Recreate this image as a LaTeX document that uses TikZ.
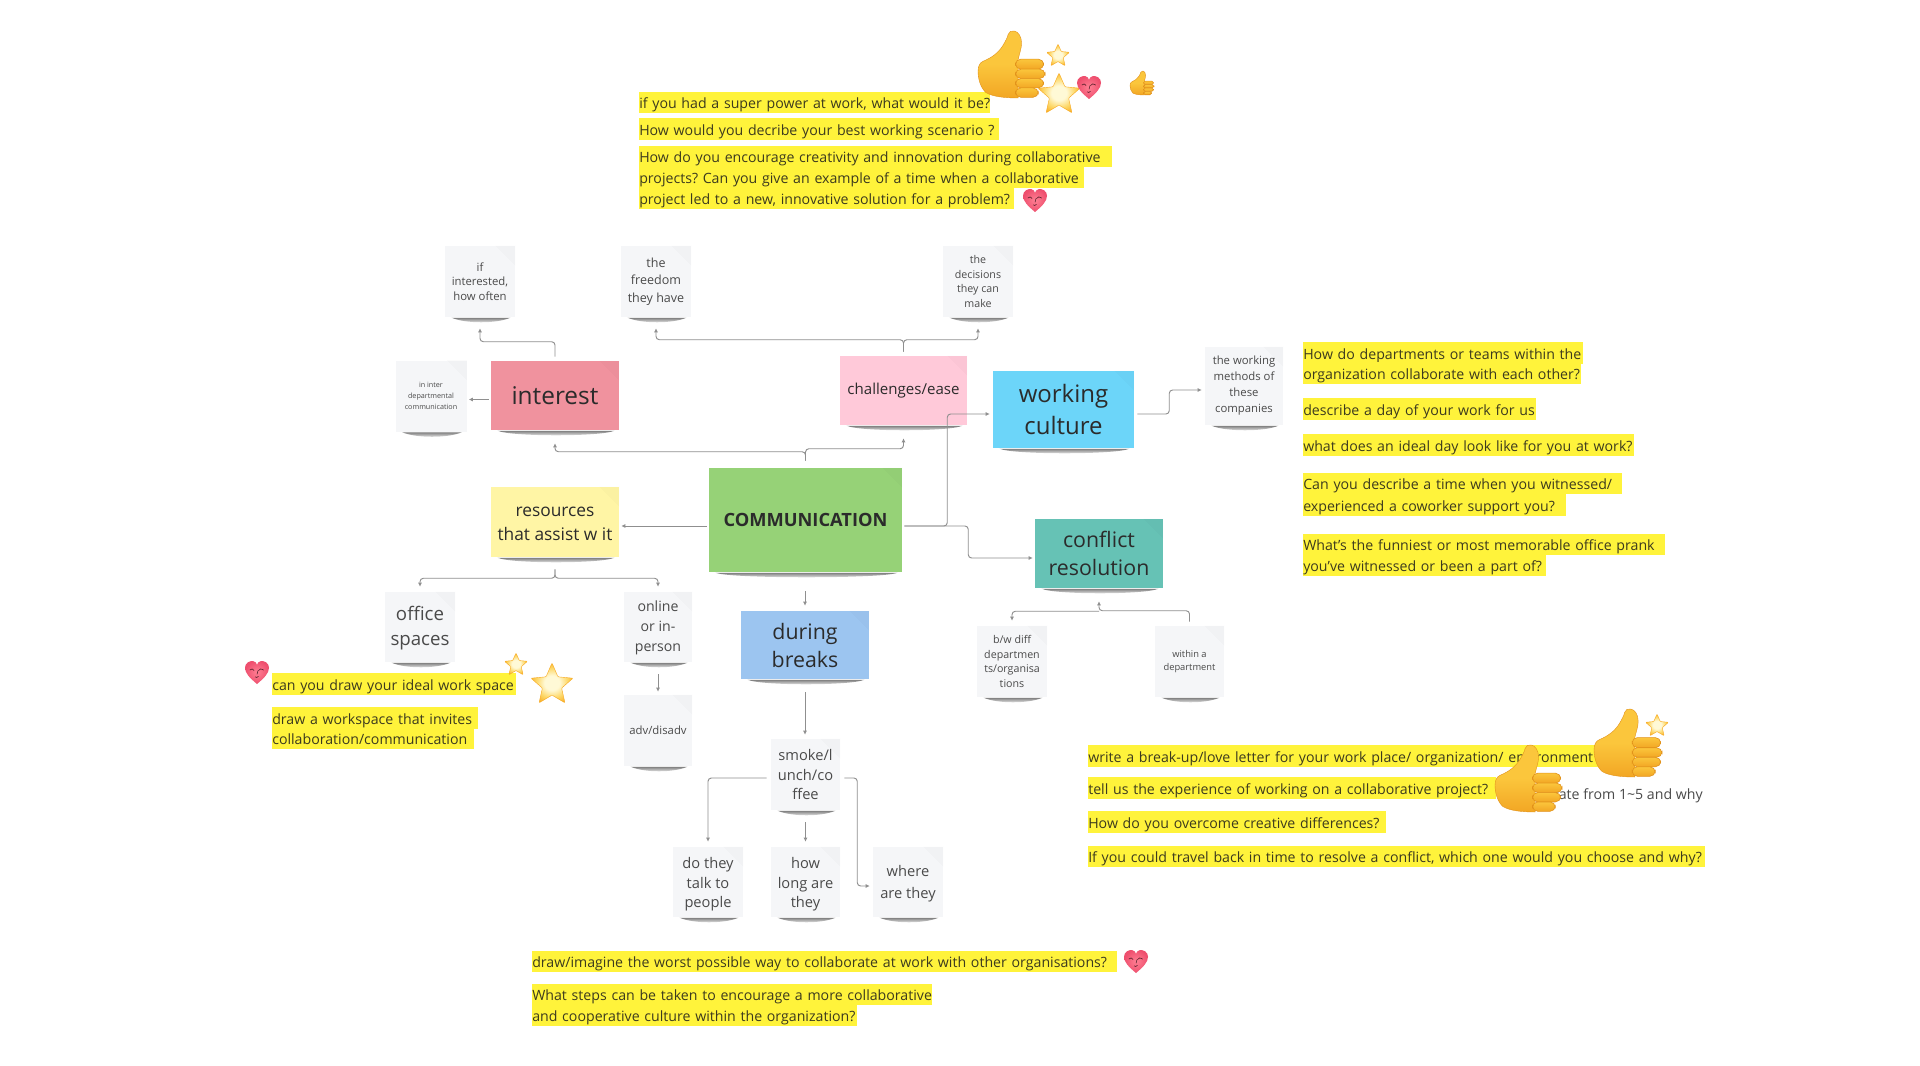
\documentclass[tikz,border=0pt]{standalone}
\usepackage{fontspec}
\setmainfont{Open Sans}
\usetikzlibrary{arrows.meta,calc}
\definecolor{cinterest}{HTML}{F0929E}
\definecolor{cchal}{HTML}{FFC9D9}
\definecolor{cwork}{HTML}{6CD5F9}
\definecolor{ccomm}{HTML}{96D277}
\definecolor{cres}{HTML}{FFF5A5}
\definecolor{cconf}{HTML}{66C2B5}
\definecolor{cbreak}{HTML}{9CC5F0}
\definecolor{cnote}{HTML}{F5F6F8}
\definecolor{hly}{HTML}{FFF33B}
\definecolor{ink}{HTML}{2B2B2B}
\definecolor{inksoft}{HTML}{4A4A4A}
\definecolor{inkhl}{HTML}{3C3A1E}
\definecolor{cline}{HTML}{8F8F8F}
\definecolor{tbody}{HTML}{FBC63C}
\definecolor{tdark}{HTML}{F2A624}
\definecolor{tedge}{HTML}{E2921A}
\definecolor{hin}{HTML}{FF7F93}
\definecolor{hout}{HTML}{EE4F6E}
\definecolor{sin}{HTML}{FFF9D6}
\definecolor{smid}{HTML}{FDD766}
\definecolor{sout}{HTML}{F8A81E}
\pgfdeclareradialshading{starshade}{\pgfpointorigin}{color(0bp)=(sin);color(9bp)=(sin);color(19bp)=(smid);color(29bp)=(sout);color(100bp)=(sout)}
\tikzset{
  sticky/.style 2 args={inner sep=0pt,align=center,minimum width=#1*.75pt,minimum height=#2*.75pt,text=ink},
  note/.style 2 args={sticky={#1}{#2},fill=cnote,text=inksoft},
  fs/.style 2 args={font=\fontsize{#1}{#2}\selectfont},
  conn/.style={draw=cline,line width=.7pt,rounded corners=2.5pt,-{Latex[length=3pt,width=3pt]}},
  hl/.style={fill=hly,anchor=west,inner xsep=0pt,inner ysep=2.4pt,text height=10.2pt,text depth=.8pt,align=left,text=inkhl,font=\fontsize{10.62}{13}\selectfont\frenchspacing},
  thumb/.pic={
    \path[draw=tedge,line width=.3pt,top color=tbody,bottom color=tdark,middle color=tbody]
      (12,92) .. controls (4,85) and (0,72) .. (0,60) .. controls (0,52) and (3,47) .. (8,45)
      .. controls (20,40) and (30,33) .. (37,22) .. controls (41,15) and (44,10) .. (45,5)
      .. controls (46,1) and (50,-1) .. (54,0) .. controls (60,1) and (65,8) .. (65,18)
      .. controls (65,26) and (62,33) .. (60,42) -- (60,100)
      .. controls (40,100) and (22,98) .. (12,92) -- cycle;
    \foreach \ya/\yb/\xe in {42/57/98,57/71/100,71/85/98,85/99/90}{
      \path[draw=tedge,line width=.45pt,top color=tbody,bottom color=tdark,rounded corners=#1]
        (56,\ya) rectangle (\xe,\yb);}
  },
  heart/.pic={
    \path[inner color=hin,outer color=hout]
      (0,50) .. controls (-30,25) and (-50,5) .. (-50,-18) .. controls (-50,-38) and (-30,-48) .. (-15,-45)
      .. controls (-7,-43) and (-2,-38) .. (0,-30) .. controls (2,-38) and (7,-43) .. (15,-45)
      .. controls (30,-48) and (50,-38) .. (50,-18) .. controls (50,5) and (30,25) .. (0,50) -- cycle;
    \draw[line width=.4pt,draw=black!70!hout] (-30,-8) .. controls (-24,-16) and (-16,-14) .. (-12,-6)
      (6,-6) .. controls (10,-14) and (20,-16) .. (28,-8)
      (4,-6) .. controls (6,2) and (-2,4) .. (0,10)
      (-8,20) .. controls (-4,24) and (2,24) .. (6,18);
  },
  star/.pic={
    \path[draw=sout,line width=.3pt,shading=starshade,rounded corners=.6pt]
      (-90:100) -- (-54:46) -- (-18:100) -- (18:46) -- (54:100) -- (90:46) -- (126:100) -- (162:46) -- (198:100) -- (234:46) -- cycle;
  },
}
\newcommand\undershade[1]{%
  \shade[top color=black!50,bottom color=white]
    ($(#1.south west)+(7,0.5)$) .. controls +(14,6) and +(-14,6) .. ($(#1.south east)+(-5,0.5)$) -- cycle;
  \fill[black,opacity=.016] ($(#1.north east)+(-20,0)$) -- (#1.north east) -- ($(#1.north east)+(0,20)$) -- cycle;}
\newcommand\hlline[5]{\node[hl,text width=#4*.75pt] (#1) at (#2,#3) {\mbox{#5}};}
\newcommand\lead[1]{\rule{0pt}{#1}}
\begin{document}
\begin{tikzpicture}[x=.75pt,y=-.75pt]
\useasboundingbox (0,0) rectangle (1920,1066);
\fill[white] (0,0) rectangle (1920,1066);

% coloured notes
\node[sticky={128}{69},fill=cinterest,fs={18.3}{23}] (interest) at (555,395.5) {interest};
\node[sticky={127}{69},fill=cchal,fs={11.3}{15}] (chal) at (903.5,390.5) {challenges/ease};
\node[sticky={141}{77},fill=cwork,fs={18}{23.5}] (work) at (1063.5,409.5) {working\\culture};
\node[sticky={193}{104},fill=ccomm,font=\fontsize{13.7}{17}\selectfont\bfseries] (comm) at (805.5,520) {COMMUNICATION};
\node[sticky={128}{70},fill=cres,fs={13}{18}] (res) at (555,522) {\lead{10.6pt}resources\\that assist w it};
\node[sticky={128}{69},fill=cconf,fs={16}{21}] (conf) at (1099,553.5) {conflict\\resolution};
\node[sticky={128}{68},fill=cbreak,fs={16}{21}] (breaks) at (805,645) {during\\breaks};

% grey notes
\node[note={71}{71},fs={5.4}{8}] (ininter) at (431,396) {in inter\\departmental\\communication};
\node[note={70}{71},fs={8.5}{11}] (ifint) at (480,281.5) {if\\interested,\\how often};
\node[note={70}{71},fs={9.4}{13}] (free) at (656,281.5) {the\\freedom\\they have};
\node[note={70}{71},fs={8}{11}] (dec) at (978,281.5) {the\\decisions\\they can\\make};
\node[note={78}{78},fs={8.5}{12}] (meth) at (1244,386) {the working\\methods of\\these\\companies};
\node[note={70}{71},fs={8}{11}] (bw) at (1012,661.5) {b/w diff\\departmen\\ts/organisa\\tions};
\node[note={69}{71},fs={7}{10}] (within) at (1189.5,661.5) {within a\\department};
\node[note={70}{70},fs={14}{19}] (office) at (420,627) {\lead{12.6pt}office\\spaces};
\node[note={68}{70},fs={10.6}{15}] (online) at (658,627) {\lead{10pt}online\\or in-\\person};
\node[note={68}{71},fs={8.5}{11}] (adv) at (658,730.5) {adv/disadv};
\node[note={69}{71},fs={11}{14.5}] (smoke) at (805.5,774.5) {smoke/l\\unch/co\\ffee};
\node[note={70}{70},fs={11}{14.5}] (dothey) at (708,882) {\lead{12pt}do they\\talk to\\people};
\node[note={69}{70},fs={11}{14.5}] (howlong) at (805.5,882) {\lead{12pt}how\\long are\\they};
\node[note={70}{70},fs={11}{16.5}] (where) at (908,882) {\lead{11pt}where\\are they};

\foreach \n in {interest,chal,work,comm,res,conf,breaks,ininter,ifint,free,dec,meth,bw,within,office,online,adv,smoke,dothey,howlong,where}{\undershade{\n}}

% connectors
\draw[conn] ($(comm.north)+(0,-7)$) -- ++(0,-12) -| ($(chal.south)+(0,13)$);
\draw[conn] ($(comm.north)+(0,-7)$) -- ++(0,-9) -| ($(interest.south)+(0,13)$);
\draw[conn] ($(interest.north)+(0,-4)$) -- ++(0,-15) -| ($(ifint.south)+(0,11)$);
\draw[conn] ($(interest.west)+(-2,4)$) -- ($(ininter.east)+(2,3.5)$);
\draw[conn] ($(chal.north)+(0,-4)$) -- ++(0,-12) -| ($(free.south)+(0,11)$);
\draw[conn] ($(chal.north)+(0,-4)$) -- ++(0,-12) -| ($(dec.south)+(0,11)$);
\draw[conn] ($(comm.east)+(2,6)$) -- ++(43,0) |- ($(work.west)+(-3,4.5)$);
\draw[conn] ($(comm.east)+(2,6)$) -- ++(64,0) |- ($(conf.west)+(-2,4.5)$);
\draw[conn] ($(work.east)+(3,4.5)$) -- ++(32,0) |- ($(meth.west)+(-3,4)$);
\draw[conn] ($(comm.west)+(-2,6)$) -- ($(res.east)+(2,4)$);
\draw[conn] ($(comm.south)+(-.5,19)$) -- ($(breaks.north)+(0,-5)$);
\draw[conn] ($(res.south)+(0,12)$) -- ++(0,9) -| ($(office.north)+(0,-5)$);
\draw[conn] ($(res.south)+(0,12)$) -- ++(0,9) -| ($(online.north)+(0,-5)$);
\draw[conn] ($(online.south)+(0,12)$) -- ($(adv.north)+(0,-3)$);
\draw[conn] ($(breaks.south)+(0,13)$) -- ($(smoke.north)+(-.5,-4)$);
\draw[conn] ($(smoke.west)+(-4,3.5)$) -| ($(dothey.north)+(0,-5)$);
\draw[conn] ($(smoke.south)+(0,12)$) -- ($(howlong.north)+(0,-5)$);
\draw[conn] ($(smoke.east)+(4,3.5)$) -- ++(13,0) |- ($(where.west)+(-3,4)$);
\draw[conn] ($(within.north)+(0,-4)$) -- ++(0,-11) -| ($(conf.south)+(0,13)$);
\draw[conn] ($(conf.south)+(0,23)$) -| ($(bw.north)+(0,-5)$);

% highlighted questions
\hlline{qa}{639}{102.5}{351}{if you had a super power at work, what would it be?}
\hlline{qb}{639}{129}{360}{How would you decribe your best working scenario ?}
\hlline{qc}{639}{156.5}{473}{How do you encourage creativity and innovation during collaborative}
\hlline{qd}{639}{177.5}{445}{projects? Can you give an example of a time when a collaborative}
\hlline{qe}{639}{198.5}{375}{project led to a new, innovative solution for a problem?}
\hlline{ra}{1303}{353}{280}{How do departments or teams within the}
\hlline{rb}{1303}{373}{278}{organization collaborate with each other?}
\hlline{rc}{1303}{409}{233}{describe a day of your work for us}
\hlline{rd}{1303}{445}{331}{what does an ideal day look like for you at work?}
\hlline{re}{1303}{483.5}{319}{Can you describe a time when you witnessed/}
\hlline{rf}{1303}{505}{263}{experienced a coworker support you?}
\hlline{rg}{1303}{544.5}{362}{What's the funniest or most memorable office prank}
\hlline{rh}{1303}{565.5}{243}{you've witnessed or been a part of?}
\hlline{la}{272}{684}{244}{can you draw your ideal work space}
\hlline{lb}{272}{718}{206}{draw a workspace that invites}
\hlline{lc}{272}{738.5}{202}{collaboration/communication}
\hlline{sa}{1088}{756}{522}{write a break-up/love letter for your work place/ organization/ environment}
\hlline{sb}{1088}{788}{408}{tell us the experience of working on a collaborative project?}
\hlline{sc}{1088}{822}{298}{How do you overcome creative differences?}
\hlline{sd}{1088}{856.5}{617}{If you could travel back in time to resolve a conflict, which one would you choose and why?}
\hlline{ba}{532}{961.5}{585}{draw/imagine the worst possible way to collaborate at work with other organisations?}
\hlline{bb}{532}{994.5}{400}{What steps can be taken to encourage a more collaborative}
\hlline{bc}{532}{1015.5}{325}{and cooperative culture within the organization?}
\node[anchor=east,inner sep=0pt,text=inksoft,font=\fontsize{10.62}{13}\selectfont] (rate) at (1703,795.5) {rate from 1\textasciitilde5 and why};

% reactions
\pic[scale=.67] at (978,31) {thumb=4pt};
\pic[scale=.24] at (1130,71) {thumb=1.3pt};
\pic[scale=.68] at (1594,709) {thumb=4pt};
\pic[scale=.67] at (1495,745) {thumb=4pt};
\pic[scale=.12] at (1058,56) {star};
\pic[scale=.22] at (1059,95) {star};
\pic[scale=.12] at (516,665) {star};
\pic[scale=.22] at (552,685) {star};
\pic[scale=.12] at (1657,726) {star};
\pic[scale=.24] at (1089,87) {heart};
\pic[scale=.24] at (1035,200) {heart};
\pic[scale=.24] at (257,672) {heart};
\pic[scale=.24] at (1136,961) {heart};
\end{tikzpicture}
\end{document}
